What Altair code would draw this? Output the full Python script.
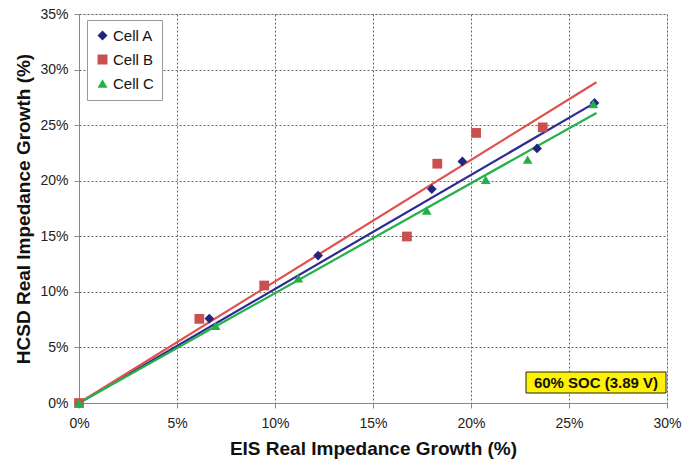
import altair as alt
import pandas as pd

# Measured points (percent)
cell_a_x = [0.0, 6.65, 12.2, 18.0, 19.56, 23.37, 26.3]
cell_a_y = [0.0, 7.6, 13.27, 19.25, 21.74, 22.9, 27.0]
cell_b_x = [0.0, 6.14, 9.45, 16.73, 18.28, 20.26, 23.66]
cell_b_y = [0.0, 7.57, 10.57, 14.98, 21.53, 24.3, 24.8]
cell_c_x = [0.0, 6.97, 11.19, 17.74, 20.75, 22.89, 26.24]
cell_c_y = [0.0, 6.94, 11.23, 17.32, 20.09, 21.9, 26.9]

# Trend lines (start/end)
trend_x = [0.0, 26.4]
trend_a = [0.0, 27.09]
trend_b = [0.0, 28.86]
trend_c = [0.0, 26.1]

cells = ["Cell A", "Cell B", "Cell C"]
fits = ["Fit A", "Fit B", "Fit C"]
colors = ["#232383", "#C9504E", "#25AF48"]
line_colors = ["#2B2B93", "#E0504E", "#25B04A"]
shapes = ["diamond", "square", "triangle-up"]

rows = []
for name, xs, ys in [("Cell A", cell_a_x, cell_a_y), ("Cell B", cell_b_x, cell_b_y), ("Cell C", cell_c_x, cell_c_y)]:
    for x, y in zip(xs, ys):
        rows.append({"cell": name, "x": x, "y": y})
pts = pd.DataFrame(rows)

trows = []
for name, ys in [("Fit A", trend_a), ("Fit B", trend_b), ("Fit C", trend_c)]:
    for x, y in zip(trend_x, ys):
        trows.append({"fit": name, "x": x, "y": y})
trend = pd.DataFrame(trows)

xscale = alt.Scale(domain=[0, 30], nice=False, zero=True)
yscale = alt.Scale(domain=[0, 35], nice=False, zero=True)

font = "Liberation Sans"

xaxis = alt.Axis(values=[0, 5, 10, 15, 20, 25, 30], labelExpr="datum.value + '%'",
                 title="EIS Real Impedance Growth (%)", titleFontSize=19, titleFontWeight="bold",
                 titleFont=font, labelFont=font, labelFontSize=14, labelColor="#222",
                 titleColor="#111", labelPadding=8, titlePadding=9,
                 grid=True, gridDash=[2, 2], gridColor="#666", gridWidth=1,
                 domainColor="#888", tickColor="#888", tickSize=5, labelFlush=False)
yaxis = alt.Axis(values=[0, 5, 10, 15, 20, 25, 30, 35], labelExpr="datum.value + '%'",
                 title="HCSD Real Impedance Growth (%)", titleFontSize=19, titleFontWeight="bold",
                 titleFont=font, labelFont=font, labelFontSize=14, labelColor="#222",
                 titleColor="#111", labelPadding=6, titlePadding=6,
                 grid=True, gridDash=[2, 2], gridColor="#666", gridWidth=1,
                 domainColor="#888", tickColor="#888", tickSize=5, labelFlush=False)

lines = alt.Chart(trend).mark_line(strokeWidth=2.2, clip=False).encode(
    x=alt.X("x:Q", scale=xscale, axis=xaxis),
    y=alt.Y("y:Q", scale=yscale, axis=yaxis),
    stroke=alt.Stroke("fit:N", scale=alt.Scale(domain=fits, range=line_colors), legend=None),
    detail="fit:N",
)

legend = alt.Legend(title=None, orient="none", legendX=8, legendY=6,
                    labelFont=font, labelFontSize=15, labelColor="#111",
                    symbolSize=100, strokeColor="#999", fillColor="white",
                    padding=8, rowPadding=8, labelOffset=3,
                    cornerRadius=0, symbolOpacity=1, symbolStrokeWidth=0)

points = alt.Chart(pts).mark_point(filled=True, opacity=1, size=95, clip=False, strokeWidth=0).encode(
    x=alt.X("x:Q", scale=xscale),
    y=alt.Y("y:Q", scale=yscale),
    fill=alt.Fill("cell:N", scale=alt.Scale(domain=cells, range=colors), legend=legend),
    shape=alt.Shape("cell:N", scale=alt.Scale(domain=cells, range=shapes), legend=legend),
)

box = alt.Chart(pd.DataFrame({"t": ["60% SOC (3.89 V)"]})).mark_rect(
    fill="#FFF200", stroke="#222", strokeWidth=1).encode(
    x=alt.value(447), x2=alt.value(587), y=alt.value(358), y2=alt.value(379))
label = alt.Chart(pd.DataFrame({"t": ["60% SOC (3.89 V)"]})).mark_text(
    font=font, fontSize=15, fontWeight="bold", color="#111", align="center", baseline="middle").encode(
    x=alt.value(517), y=alt.value(369), text="t:N")

chart = alt.layer(lines, points, box, label).properties(
    width=588, height=389,
    autosize=alt.AutoSizeParams(type="none"),
    padding={"left": 79, "top": 14, "right": 15, "bottom": 60},
).configure_view(stroke="#c8c8c8", strokeWidth=2).configure(background="white")

chart.save("out.html", embed_options={"renderer": "svg", "actions": False})
